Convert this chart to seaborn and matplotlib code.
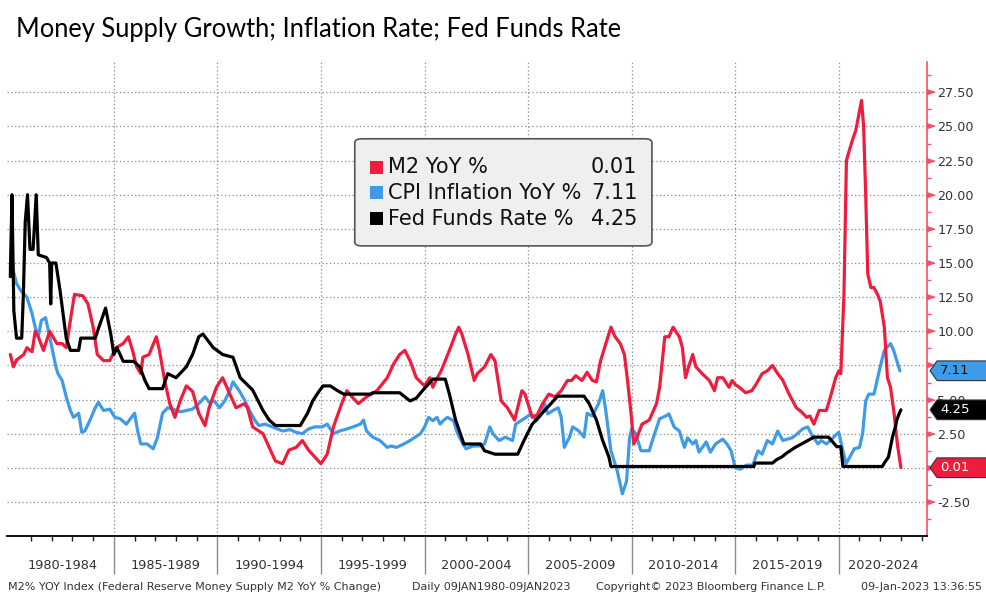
import numpy as np
import pandas as pd
import matplotlib
matplotlib.use("Agg")
import matplotlib.pyplot as plt
import matplotlib.transforms as mtransforms
from matplotlib.patches import FancyBboxPatch, Polygon, Rectangle
from matplotlib.ticker import MultipleLocator, FixedLocator, FuncFormatter, NullFormatter
import seaborn as sns

# ---- data (decimal years, percent) ----
ff_years = [1980.0, 1980.08, 1980.17, 1980.3, 1980.55, 1980.63, 1980.72, 1980.83, 1980.95, 1981.1,
            1981.25, 1981.35, 1981.75, 1981.9, 1981.95, 1982.0, 1982.2, 1982.4, 1982.7, 1982.9,
            1983.3, 1983.4, 1984.1, 1984.3, 1984.6, 1984.85, 1985.0, 1985.15, 1985.45, 1985.95,
            1986.25, 1986.5, 1986.7, 1987.35, 1987.6, 1988.0, 1988.5, 1988.8, 1989.1, 1989.3,
            1989.8, 1990.25, 1990.75, 1991.1, 1991.7, 1992.2, 1992.5, 1992.8, 1994.0, 1994.35,
            1994.6, 1994.9, 1995.1, 1995.45, 1995.8, 1996.1, 1997.4, 1997.5, 1998.8, 1999.3,
            1999.6, 1999.9, 2000.4, 2001.0, 2001.2, 2001.5, 2001.9, 2002.7, 2002.9, 2003.4,
            2004.5, 2004.8, 2005.2, 2005.8, 2006.4, 2006.5, 2007.7, 2007.95, 2008.3, 2008.6,
            2008.9, 2009.0, 2015.9, 2015.95, 2016.8, 2017.0, 2017.25, 2017.5, 2017.7, 2017.9,
            2018.2, 2018.5, 2018.8, 2019.5, 2019.65, 2019.9, 2020.1, 2020.2, 2022.1, 2022.2,
            2022.4, 2022.5, 2022.6, 2022.75, 2022.8, 2022.9, 2023.0]
ff_values = [14.0, 20.0, 11.5, 9.5, 9.5, 12.7, 18.0, 20.0, 16.0, 16.0,
             20.0, 15.6, 15.4, 15.0, 12.0, 15.0, 15.0, 13.0, 9.5, 8.6,
             8.6, 9.5, 9.5, 10.4, 11.7, 9.8, 8.3, 8.8, 7.8, 7.8,
             7.4, 6.4, 5.8, 5.8, 6.9, 6.6, 7.4, 8.3, 9.6, 9.8,
             8.8, 8.3, 8.1, 6.6, 5.7, 4.2, 3.5, 3.1, 3.1, 4.0,
             4.9, 5.6, 6.0, 6.0, 5.65, 5.4, 5.4, 5.5, 5.5, 4.9,
             5.1, 5.65, 6.5, 6.5, 5.4, 3.5, 1.75, 1.75, 1.25, 1.0,
             1.0, 2.0, 3.2, 4.2, 5.2, 5.25, 5.25, 4.7, 3.5, 2.0,
             0.8, 0.1, 0.1, 0.35, 0.35, 0.6, 0.8, 1.1, 1.3, 1.5,
             1.75, 2.0, 2.25, 2.25, 2.0, 1.55, 1.55, 0.1, 0.1, 0.35,
             0.8, 1.55, 2.3, 3.1, 3.5, 3.9, 4.25]

m2_years = [1980.0, 1980.15, 1980.3, 1980.65, 1980.8, 1981.05, 1981.2, 1981.35, 1981.6, 1981.9,
            1982.25, 1982.5, 1982.7, 1982.95, 1983.1, 1983.5, 1983.75, 1984.0, 1984.2, 1984.5,
            1984.8, 1985.1, 1985.45, 1985.7, 1985.9, 1986.1, 1986.3, 1986.4, 1986.7, 1987.05,
            1987.2, 1987.45, 1987.7, 1987.95, 1988.2, 1988.5, 1988.8, 1989.1, 1989.4, 1989.6,
            1989.95, 1990.25, 1990.6, 1990.9, 1991.3, 1991.45, 1991.7, 1992.2, 1992.5, 1992.8,
            1993.15, 1993.45, 1993.8, 1994.1, 1994.4, 1994.7, 1995.0, 1995.3, 1995.6, 1996.0,
            1996.25, 1996.5, 1996.8, 1997.2, 1997.7, 1998.2, 1998.5, 1998.8, 1999.05, 1999.3,
            1999.6, 2000.0, 2000.25, 2000.4, 2000.55, 2000.8, 2001.2, 2001.5, 2001.65, 2001.8,
            2002.1, 2002.4, 2002.55, 2002.9, 2003.2, 2003.4, 2003.7, 2004.0, 2004.35, 2004.7,
            2004.85, 2005.2, 2005.45, 2005.7, 2006.0, 2006.3, 2006.6, 2006.9, 2007.1, 2007.3,
            2007.6, 2007.85, 2008.1, 2008.3, 2008.5, 2009.0, 2009.2, 2009.45, 2009.65, 2009.8,
            2009.97, 2010.1, 2010.25, 2010.5, 2010.85, 2011.2, 2011.35, 2011.6, 2011.8, 2012.0,
            2012.3, 2012.45, 2012.6, 2012.75, 2012.95, 2013.1, 2013.4, 2013.75, 2014.0, 2014.15,
            2014.4, 2014.7, 2014.85, 2015.0, 2015.2, 2015.5, 2015.8, 2016.0, 2016.3, 2016.55,
            2016.8, 2017.05, 2017.3, 2017.6, 2017.95, 2018.2, 2018.45, 2018.6, 2018.8, 2019.05,
            2019.4, 2019.6, 2019.85, 2020.0, 2020.1, 2020.25, 2020.37, 2020.5, 2020.66, 2020.82,
            2021.0, 2021.1, 2021.2, 2021.3, 2021.4, 2021.55, 2021.7, 2021.87, 2022.0, 2022.2,
            2022.35, 2022.5, 2022.67, 2022.83, 2023.0]
m2_values = [8.3, 7.4, 7.9, 8.3, 8.8, 8.5, 10.0, 9.6, 8.6, 10.0,
             9.1, 9.1, 8.8, 11.3, 12.7, 12.6, 12.0, 10.3, 8.3, 7.85,
             7.85, 8.8, 9.1, 9.6, 8.6, 7.4, 6.9, 8.1, 8.3, 9.6,
             8.6, 6.4, 4.7, 3.7, 4.9, 6.0, 5.6, 4.0, 3.1, 4.4,
             5.9, 6.6, 5.4, 4.4, 4.7, 4.4, 3.0, 2.5, 1.5, 0.5,
             0.3, 1.3, 1.5, 2.0, 1.3, 0.8, 0.3, 1.0, 3.0, 4.7,
             5.65, 5.2, 4.7, 5.2, 5.65, 6.6, 7.6, 8.3, 8.6, 7.85,
             6.6, 6.0, 6.6, 5.9, 6.4, 7.1, 8.6, 9.8, 10.3, 9.8,
             8.3, 6.4, 6.9, 7.4, 8.3, 7.85, 4.9, 4.4, 3.5, 5.65,
             5.4, 3.7, 3.9, 4.7, 5.4, 5.2, 5.65, 6.4, 6.4, 6.75,
             6.4, 7.0, 6.4, 6.3, 7.85, 10.3, 9.6, 9.1, 8.3, 6.4,
             4.0, 1.75, 2.2, 3.2, 3.5, 4.7, 5.9, 9.6, 9.6, 10.3,
             9.6, 8.8, 6.6, 7.4, 8.3, 7.4, 6.9, 6.4, 5.65, 6.6,
             6.6, 5.9, 6.4, 6.1, 5.9, 5.5, 5.65, 6.1, 6.9, 7.1,
             7.5, 6.9, 6.4, 5.4, 4.4, 4.1, 3.7, 3.8, 3.2, 4.2,
             4.2, 5.2, 6.6, 7.1, 6.9, 12.7, 22.5, 23.2, 24.0, 24.7,
             26.1, 26.9, 25.0, 20.0, 14.2, 13.2, 13.2, 12.7, 12.2, 10.3,
             6.6, 5.9, 4.0, 1.75, 0.01]

cpi_years = [1980.0, 1980.15, 1980.3, 1980.5, 1980.8, 1981.05, 1981.2, 1981.35, 1981.5, 1981.7,
             1981.9, 1982.2, 1982.3, 1982.5, 1982.7, 1982.9, 1983.05, 1983.3, 1983.45, 1983.6,
             1983.85, 1984.1, 1984.25, 1984.5, 1984.8, 1985.05, 1985.3, 1985.6, 1985.85, 1986.0,
             1986.15, 1986.3, 1986.6, 1986.9, 1987.1, 1987.35, 1987.6, 1987.85, 1988.2, 1988.5,
             1988.8, 1989.1, 1989.4, 1989.6, 1989.85, 1990.1, 1990.35, 1990.6, 1990.75, 1991.05,
             1991.3, 1991.55, 1991.8, 1992.0, 1992.3, 1992.65, 1993.15, 1993.5, 1993.8, 1994.1,
             1994.4, 1994.7, 1995.05, 1995.3, 1995.6, 1995.9, 1996.25, 1996.55, 1996.9, 1997.05,
             1997.2, 1997.5, 1997.85, 1998.2, 1998.4, 1998.65, 1999.0, 1999.3, 1999.8, 2000.0,
             2000.2, 2000.4, 2000.6, 2000.75, 2000.9, 2001.1, 2001.4, 2001.6, 2001.85, 2002.0,
             2002.35, 2002.65, 2002.9, 2003.15, 2003.3, 2003.6, 2003.9, 2004.25, 2004.4, 2004.65,
             2004.9, 2005.15, 2005.4, 2005.65, 2005.8, 2005.95, 2006.2, 2006.45, 2006.6, 2006.75,
             2007.0, 2007.15, 2007.45, 2007.7, 2007.85, 2008.1, 2008.4, 2008.6, 2008.75, 2009.0,
             2009.3, 2009.55, 2009.75, 2009.9, 2010.0, 2010.2, 2010.45, 2010.85, 2011.0, 2011.35,
             2011.65, 2011.8, 2012.05, 2012.3, 2012.55, 2012.7, 2012.95, 2013.1, 2013.25, 2013.6,
             2013.8, 2014.05, 2014.4, 2014.6, 2014.8, 2015.0, 2015.25, 2015.55, 2015.85, 2016.1,
             2016.3, 2016.55, 2016.8, 2017.05, 2017.3, 2017.5, 2017.75, 2018.0, 2018.25, 2018.5,
             2018.7, 2019.0, 2019.15, 2019.4, 2019.6, 2019.85, 2020.0, 2020.2, 2020.35, 2020.5,
             2020.75, 2021.0, 2021.15, 2021.3, 2021.45, 2021.7, 2021.85, 2022.0, 2022.2, 2022.4,
             2022.5, 2022.65, 2022.8, 2022.95]
cpi_values = [14.7, 14.4, 13.5, 13.0, 12.5, 11.3, 10.3, 9.6, 10.8, 11.0,
              9.6, 7.4, 6.9, 6.4, 5.2, 4.2, 3.7, 4.0, 2.6, 2.7,
              3.5, 4.4, 4.8, 4.2, 4.3, 3.7, 3.6, 3.2, 3.7, 4.0,
              2.7, 1.75, 1.75, 1.4, 2.2, 4.0, 4.4, 4.3, 4.1, 4.2,
              4.3, 4.7, 5.2, 4.8, 4.9, 4.4, 4.9, 5.65, 6.3, 5.65,
              5.0, 4.2, 3.5, 3.1, 3.2, 3.0, 2.7, 2.8, 2.6, 2.5,
              2.85, 3.0, 3.0, 3.2, 2.5, 2.7, 2.85, 3.0, 3.2, 3.5,
              2.7, 2.25, 2.0, 1.5, 1.6, 1.5, 1.75, 2.0, 2.5, 3.0,
              3.7, 3.45, 3.7, 3.2, 3.45, 3.7, 3.45, 2.5, 1.75, 1.4,
              1.6, 1.6, 1.75, 3.0, 2.5, 2.0, 2.25, 2.0, 3.2, 3.45,
              3.7, 3.95, 3.45, 3.95, 4.7, 3.95, 4.2, 4.4, 3.7, 1.5,
              2.25, 3.0, 2.7, 2.25, 4.0, 3.8, 4.7, 5.65, 4.2, 1.25,
              -0.2, -1.9, -1.0, 2.2, 2.85, 2.5, 1.25, 1.25, 2.0, 3.6,
              3.8, 3.95, 3.0, 2.7, 1.5, 2.2, 1.75, 2.0, 1.15, 1.9,
              1.15, 1.75, 2.1, 1.75, 1.25, 0.0, -0.1, 0.2, 0.2, 1.25,
              1.0, 2.0, 1.75, 2.7, 2.0, 2.1, 2.2, 2.5, 2.85, 3.0,
              2.4, 1.75, 2.0, 1.75, 2.0, 2.4, 2.6, 1.25, 0.3, 0.7,
              1.4, 1.5, 2.5, 4.9, 5.4, 5.4, 6.4, 7.4, 8.6, 8.95,
              9.1, 8.6, 7.85, 7.11]

series_names = ["M2 YoY %", "CPI Inflation YoY %", "Fed Funds Rate %"]
last_values = [0.01, 7.11, 4.25]
band_labels = ["1980-1984", "1985-1989", "1990-1994", "1995-1999", "2000-2004",
               "2005-2009", "2010-2014", "2015-2019", "2020-2024"]
hidden_ticks = [0.0, 7.5]   # axis labels sitting fully under the value tags

RED = "#ef1c3e"
BLUE = "#3f9be8"
BLACK = "#000000"
AXIS_RED = "#f2506b"
TXT = "#333333"

sns.set_theme(style="white")
plt.rcParams["font.family"] = ["DejaVu Sans"]

fig = plt.figure(figsize=(9.86, 5.94), dpi=100)
ax = fig.add_axes([7 / 986, 58 / 594, 920 / 986, 474 / 594])

sns.lineplot(x=cpi_years, y=cpi_values, ax=ax, color=BLUE, lw=2.3, zorder=3)
sns.lineplot(x=m2_years, y=m2_values, ax=ax, color=RED, lw=2.3, zorder=4)
sns.lineplot(x=ff_years, y=ff_values, ax=ax, color=BLACK, lw=2.3, zorder=5)

ax.set_xlim(1979.84, 2024.26)
ax.set_ylim(-4.99, 29.72)
ax.set_xlabel("")
ax.set_ylabel("")


def fmt_right(v, pos):
    if any(abs(v - h) < 1e-6 for h in hidden_ticks):
        return ""
    return f"{v:.2f}"


# right-hand value axis
ax.yaxis.tick_right()
ax.yaxis.set_major_locator(MultipleLocator(2.5))
ax.yaxis.set_minor_locator(MultipleLocator(1.25))
ax.yaxis.set_major_formatter(FuncFormatter(fmt_right))
ax.tick_params(axis="y", which="major", right=True, left=False, length=5.5, width=1,
               color=AXIS_RED, labelsize=9.2, labelcolor=TXT, pad=2)
ax.tick_params(axis="y", which="minor", right=True, left=False, length=3, width=1,
               color=AXIS_RED)

# time axis: yearly ticks, long separators every five years
ax.xaxis.set_major_locator(FixedLocator(list(range(1985, 2025, 5))))
ax.xaxis.set_minor_locator(FixedLocator([y for y in range(1981, 2025) if y % 5]))
ax.xaxis.set_major_formatter(NullFormatter())
ax.tick_params(axis="x", which="major", bottom=True, length=27, width=1, color="#8a8a8a")
ax.tick_params(axis="x", which="minor", bottom=True, length=3.5, width=1, color="#222222")

ax.grid(True, which="major", axis="both", linestyle=(0, (1, 2)), color="#8c8c8c", lw=0.9)

for side in ["top", "left"]:
    ax.spines[side].set_visible(False)
ax.spines["right"].set_color(AXIS_RED)
ax.spines["right"].set_linewidth(1.2)
ax.spines["bottom"].set_color("#111111")
ax.spines["bottom"].set_linewidth(1.4)

xt = mtransforms.blended_transform_factory(ax.transData, ax.transAxes)
x0, x1 = ax.get_xlim()
for i, lab in enumerate(band_labels):
    start = 1980 + 5 * i
    cx = (max(start, x0) + min(start + 5, x1)) / 2
    ax.text(cx, -0.063, lab, transform=xt, ha="center", va="center", fontsize=9.3, color=TXT)

# legend box
ax.add_patch(FancyBboxPatch((0.378, 0.612), 0.323, 0.226, boxstyle="round,pad=0,rounding_size=0.008",
                            transform=ax.transAxes, facecolor="#efefef", edgecolor="#555555",
                            lw=1.2, zorder=6))
row_y = [0.778, 0.724, 0.669]
for name, val, col, yy in zip(series_names, last_values, [RED, BLUE, BLACK], row_y):
    ax.add_patch(Rectangle((0.395, yy - 0.0135), 0.0141, 0.027, transform=ax.transAxes,
                           facecolor=col, edgecolor="none", zorder=7))
    ax.text(0.414, yy, name, transform=ax.transAxes, ha="left", va="center",
            fontsize=15, color="#111111", zorder=7)
    ax.text(0.685, yy, f"{val:.2f}", transform=ax.transAxes, ha="right", va="center",
            fontsize=15, color="#111111", zorder=7)

# last-value tags on the right axis
yt = mtransforms.blended_transform_factory(ax.transAxes, ax.transData)
tag_style = [(RED, "white"), (BLUE, "#111111"), (BLACK, "white")]
for val, (fc, tc) in zip(last_values, tag_style):
    h = 0.72
    poly = Polygon([(1.0033, val), (1.0109, val + h), (1.07, val + h), (1.07, val - h), (1.0109, val - h)],
                   closed=True, transform=yt, facecolor=fc, edgecolor="#333333", lw=0.8,
                   clip_on=False, zorder=8)
    ax.add_patch(poly)
    ax.text(1.0141, val, f"{val:.2f}", transform=yt, ha="left", va="center",
            fontsize=9.5, color=tc, clip_on=False, zorder=9)

# triangular major ticks like the terminal chart
tri = [(0, -0.35), (0, 0.35), (1, 0)]
for t in ax.yaxis.get_major_ticks():
    t.tick2line.set_marker(tri)
    t.tick2line.set_markersize(11)
    t.tick2line.set_markerfacecolor(AXIS_RED)
    t.tick2line.set_markeredgecolor(AXIS_RED)

fig.text(16 / 986, 1 - 29 / 594, "Money Supply Growth; Inflation Rate; Fed Funds Rate",
         ha="left", va="center", fontsize=18.4, family=["Lato", "DejaVu Sans"], color="black")

fy = 1 - 587 / 594
fig.text(8 / 986, fy, "M2% YOY Index (Federal Reserve Money Supply M2 YoY % Change)",
         ha="left", va="center", fontsize=8, color=TXT)
fig.text(412 / 986, fy, "Daily 09JAN1980-09JAN2023", ha="left", va="center", fontsize=8, color=TXT)
fig.text(596 / 986, fy, "Copyright© 2023 Bloomberg Finance L.P.", ha="left", va="center",
         fontsize=8, color=TXT)
fig.text(982 / 986, fy, "09-Jan-2023 13:36:55", ha="right", va="center", fontsize=8, color=TXT)

fig.savefig("out.png", dpi=100, facecolor="white")
